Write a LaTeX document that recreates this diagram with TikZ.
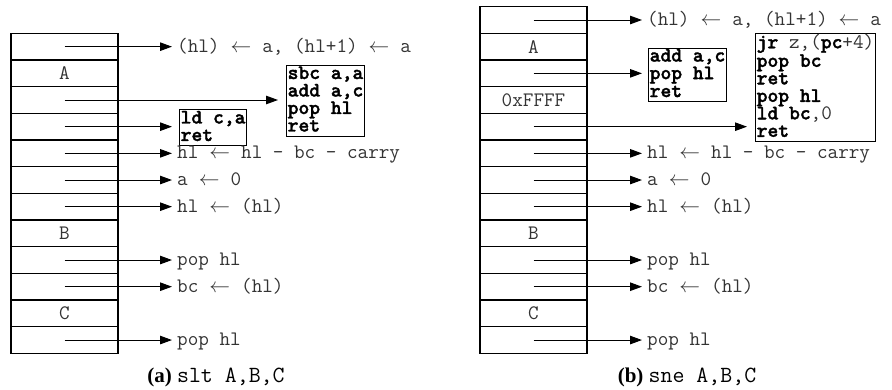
\documentclass[tikz,border=0pt]{standalone}
\usepackage{fontspec}
\setmainfont{Liberation Serif}
% heavy typewriter face for the code listings
\newfontfamily\codebf{lmmonolt10-bold.otf}[FakeBold=1.6]
\usetikzlibrary{arrows.meta}
% typewriter size used for all listings and labels
\newcommand\tts{\ttfamily\fontsize{20.57}{20.57}\selectfont}
% left arrow set two monospace cells wide
\newcommand\lar{\makebox[21.6pt]{$\leftarrow$}}
% strut for one line of a code listing
\newcommand\ls{\rule[-4.5pt]{0pt}{17.5pt}}
% regular-weight text inside a bold listing
\newcommand\rg[1]{{\ttfamily\mdseries\color{black!80}#1}}
\begin{document}
\begin{tikzpicture}[x=1pt,y=-1pt,
  cell/.style={draw, line width=1.1pt, minimum width=107pt, minimum height=26.67pt,
    inner sep=0pt, outer sep=0pt, font=\tts, text=black!80},
  arr/.style={-{Triangle[length=12pt,width=8.5pt]}, line width=1pt},
  op/.style={anchor=base west, inner sep=0pt, font=\tts, text=black!80},
  code/.style={draw, line width=1pt, anchor=north west, align=left, inner xsep=1.2pt,
    inner ysep=0.5pt, font=\codebf\fontsize{20.57}{17.5}\selectfont},
  subcap/.style={font=\fontsize{21}{21}\selectfont}]
\useasboundingbox (0,0) rectangle (892,390);

% ---------------- (a) slt A,B,C ----------------
\foreach \i/\t in {1/{},2/A,3/{},4/{},5/{},6/{},7/{},8/B,9/{},10/{},11/C,12/{}}
  \node[cell] (a\i) at (64.5,{33.33+(\i-0.5)*26.67}) {\t};

\node[op] (ta1) at (177,{46.67+5.5}) {(hl) \lar{} a, (hl+1) \lar{} a};
\node[code] (sbc) at (286,65) {\ls sbc a,a\\\ls add a,c\\\ls pop hl\\\ls ret};
\node[code] (ldc) at (179,109.5) {\ls ld c,a\\\ls ret};
\node[op] (ta5) at (177,{153.33+5.5}) {hl \lar{} hl - bc - carry};
\node[op] (ta6) at (177,{180+5.5}) {a \lar{} 0};
\node[op] (ta7) at (177,{206.67+5.5}) {hl \lar{} (hl)};
\node[op] (ta9) at (177,{260+5.5}) {pop hl};
\node[op] (ta10) at (177,{286.67+5.5}) {bc \lar{} (hl)};
\node[op] (ta12) at (177,{340+5.5}) {pop hl};

\draw[arr, shorten >=5pt] (a1.center) -- (a1.center -| ta1.west);
\draw[arr, shorten >=8pt] (a3.center) -- (a3.center -| sbc.west);
\draw[arr, shorten >=7pt] (a4.center) -- (a4.center -| ldc.west);
\foreach \i in {5,6,7,9,10,12}
  \draw[arr, shorten >=5pt] (a\i.center) -- (a\i.center -| ta\i.west);

\node[subcap] (capa) at (216,377.5)
  {\textbf{(a)} {\ttfamily\fontsize{23.2}{23.2}\selectfont slt A,B,C}};

% ---------------- (b) sne A,B,C ----------------
\foreach \i/\t in {1/{},2/A,3/{},4/0xFFFF,5/{},6/{},7/{},8/{},9/B,10/{},11/{},12/C,13/{}}
  \node[cell] (b\i) at (533.5,{6.67+(\i-0.5)*26.67}) {\t};

\node[op] (tb1) at (647,{20+5.5}) {(hl) \lar{} a, (hl+1) \lar{} a};
\node[code, font=\codebf\fontsize{20.57}{16.5}\selectfont] (addc) at (648,48)
  {\rule[-4pt]{0pt}{16.5pt}add a,c\\\rule[-4pt]{0pt}{16.5pt}pop hl\\\rule[-4pt]{0pt}{16.5pt}ret};
\node[code] (jrz) at (755,33)
  {\ls jr \rg{z,(}pc\rg{+4)}\\\ls pop bc\\\ls ret\\\ls pop hl\\\ls ld bc\rg{,0}\\\ls ret};
\node[op] (tb6) at (647,{153.33+5.5}) {hl \lar{} hl - bc - carry};
\node[op] (tb7) at (647,{180+5.5}) {a \lar{} 0};
\node[op] (tb8) at (647,{206.67+5.5}) {hl \lar{} (hl)};
\node[op] (tb10) at (647,{260+5.5}) {pop hl};
\node[op] (tb11) at (647,{286.67+5.5}) {bc \lar{} (hl)};
\node[op] (tb13) at (647,{340+5.5}) {pop hl};

\draw[arr, shorten >=5pt] (b1.center) -- (b1.center -| tb1.west);
\draw[arr, shorten >=6pt] (b3.center) -- (b3.center -| addc.west);
\draw[arr, shorten >=8pt] (b5.center) -- (b5.center -| jrz.west);
\foreach \i in {6,7,8,10,11,13}
  \draw[arr, shorten >=5pt] (b\i.center) -- (b\i.center -| tb\i.west);

\node[subcap] (capb) at (687,377.5)
  {\textbf{(b)} {\ttfamily\fontsize{23.2}{23.2}\selectfont sne A,B,C}};
\end{tikzpicture}
\end{document}
